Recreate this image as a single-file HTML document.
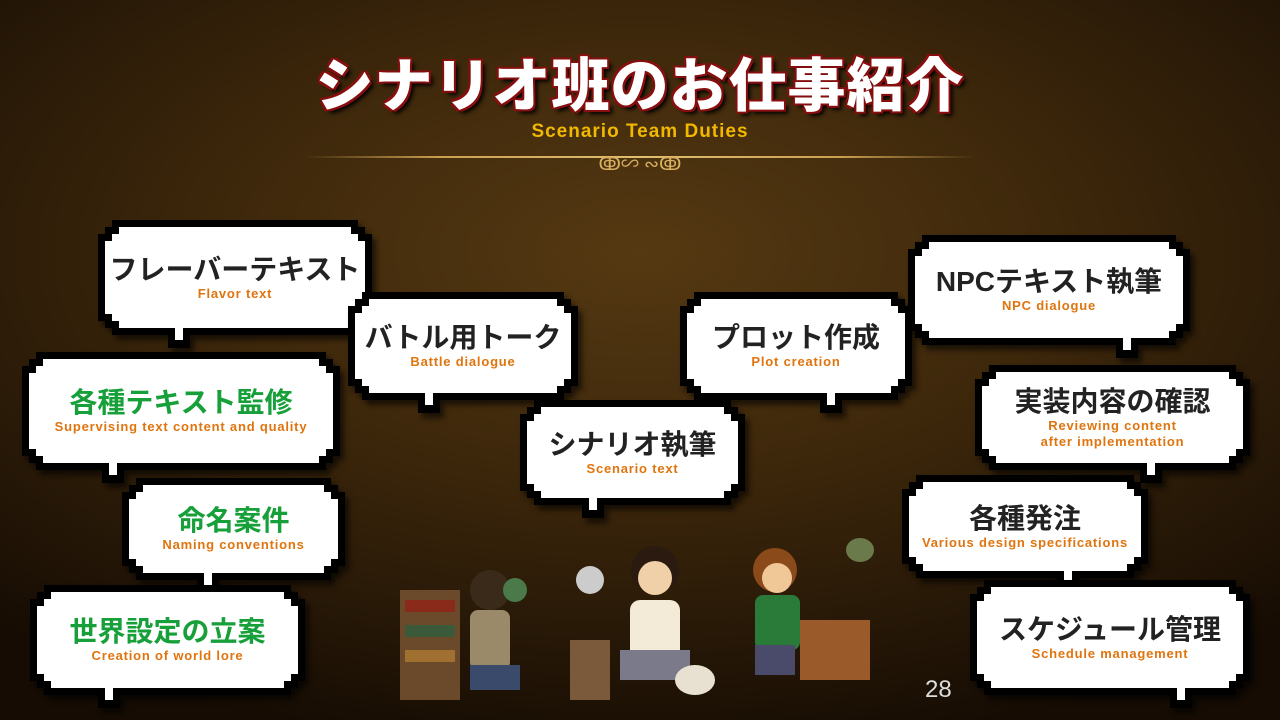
<!DOCTYPE html>
<html><head><meta charset="utf-8"><style>
*{margin:0;padding:0;box-sizing:border-box}
body{width:1280px;height:720px;overflow:hidden;position:relative;
background:radial-gradient(ellipse 75% 70% at 50% 35%,#553912 0%,#3d270b 45%,#211406 85%,#160c03 100%);
font-family:"Liberation Sans","Noto Sans CJK JP",sans-serif}
.t{position:absolute;left:0;width:1280px;text-align:center;top:58px;font-size:58px;font-weight:900;color:#fff;letter-spacing:1px;line-height:1;
text-shadow:0 0 2px #7a0a0a,2px 2px 0 #8a1010,-2px -2px 0 #8a1010,2px -2px 0 #8a1010,-2px 2px 0 #8a1010,4px 4px 4px #000}
.st{position:absolute;left:0;width:1280px;text-align:center;top:121px;font-size:19px;font-weight:bold;color:#f0b800;letter-spacing:1px}
.line{position:absolute;left:305px;width:670px;top:156px;height:2px;background:linear-gradient(90deg,transparent,#c9a050 20%,#e0c070 50%,#c9a050 80%,transparent)}
.orn{position:absolute;left:570px;top:150px;width:140px;text-align:center;color:#d8b060;font-size:18px}
.w{position:absolute;filter:drop-shadow(4px 5px 3px rgba(0,0,0,.6))}
.o,.i{position:absolute;clip-path:polygon(14px 0,calc(100% - 14px) 0,calc(100% - 14px) 7px,calc(100% - 7px) 7px,calc(100% - 7px) 14px,100% 14px,100% calc(100% - 14px),calc(100% - 7px) calc(100% - 14px),calc(100% - 7px) calc(100% - 7px),calc(100% - 14px) calc(100% - 7px),calc(100% - 14px) 100%,14px 100%,14px calc(100% - 7px),7px calc(100% - 7px),7px calc(100% - 14px),0 calc(100% - 14px),0 14px,7px 14px,7px 7px,14px 7px)}
.o{inset:0;background:#000}
.i{inset:7px;background:#fff;display:flex;flex-direction:column;align-items:center;justify-content:center}
.tail{position:absolute;width:22px;height:20px;background:#000}
.tail:after{content:"";position:absolute;left:7px;top:0;width:8px;height:12px;background:#fff}
.m{font-size:28px;font-weight:bold;color:#222;white-space:nowrap;line-height:1.15}
.g{color:#17a03a}
.s{font-size:13px;font-weight:bold;color:#e0740e;white-space:nowrap;line-height:1.2;text-align:center;letter-spacing:.8px}
.num{position:absolute;left:925px;top:676px;color:#ddd;font-size:24px}
</style></head><body>
<div class="t">シナリオ班のお仕事紹介</div>
<div class="st">Scenario Team Duties</div>
<div class="line"></div>
<div class="orn">ↂ∽ ∾ↂ</div>

<div class="w" style="left:98px;top:220px;width:274px;height:115px"><div class="o"></div><div class="tail" style="left:70px;top:108px"></div><div class="i"><div class="m">フレーバーテキスト</div><div class="s">Flavor text</div></div></div>
<div class="w" style="left:348px;top:292px;width:230px;height:108px"><div class="o"></div><div class="tail" style="left:70px;top:101px"></div><div class="i"><div class="m">バトル用トーク</div><div class="s">Battle dialogue</div></div></div>
<div class="w" style="left:680px;top:292px;width:232px;height:108px"><div class="o"></div><div class="tail" style="left:140px;top:101px"></div><div class="i"><div class="m">プロット作成</div><div class="s">Plot creation</div></div></div>
<div class="w" style="left:908px;top:235px;width:282px;height:110px"><div class="o"></div><div class="tail" style="left:208px;top:103px"></div><div class="i"><div class="m">NPCテキスト執筆</div><div class="s">NPC dialogue</div></div></div>
<div class="w" style="left:22px;top:352px;width:318px;height:118px"><div class="o"></div><div class="tail" style="left:80px;top:111px"></div><div class="i"><div class="m g">各種テキスト監修</div><div class="s">Supervising text content and quality</div></div></div>
<div class="w" style="left:975px;top:365px;width:275px;height:105px"><div class="o"></div><div class="tail" style="left:165px;top:98px"></div><div class="i"><div class="m">実装内容の確認</div><div class="s">Reviewing content<br>after implementation</div></div></div>
<div class="w" style="left:520px;top:400px;width:225px;height:105px"><div class="o"></div><div class="tail" style="left:62px;top:98px"></div><div class="i"><div class="m">シナリオ執筆</div><div class="s">Scenario text</div></div></div>
<div class="w" style="left:122px;top:478px;width:223px;height:102px"><div class="o"></div><div class="tail" style="left:75px;top:95px"></div><div class="i"><div class="m g">命名案件</div><div class="s">Naming conventions</div></div></div>
<div class="w" style="left:902px;top:475px;width:246px;height:103px"><div class="o"></div><div class="tail" style="left:155px;top:96px"></div><div class="i"><div class="m">各種発注</div><div class="s">Various design specifications</div></div></div>
<div class="w" style="left:30px;top:585px;width:275px;height:110px"><div class="o"></div><div class="tail" style="left:68px;top:103px"></div><div class="i"><div class="m g">世界設定の立案</div><div class="s">Creation of world lore</div></div></div>
<div class="w" style="left:970px;top:580px;width:280px;height:115px"><div class="o"></div><div class="tail" style="left:200px;top:108px"></div><div class="i"><div class="m">スケジュール管理</div><div class="s">Schedule management</div></div></div>

<svg style="position:absolute;left:390px;top:530px" width="520" height="180">
<g><rect x="10" y="60" width="60" height="110" fill="#6a4a2a"/><rect x="15" y="70" width="50" height="12" fill="#8a2a1a"/><rect x="15" y="95" width="50" height="12" fill="#3a5a3a"/><rect x="15" y="120" width="50" height="12" fill="#a07030"/>
<circle cx="100" cy="60" r="20" fill="#3a2a1a"/><rect x="80" y="80" width="40" height="60" rx="8" fill="#9a8a6a"/><rect x="80" y="135" width="50" height="25" fill="#3a4a6a"/><circle cx="125" cy="60" r="12" fill="#4a7a4a"/></g>
<g><rect x="180" y="110" width="40" height="60" fill="#7a5a3a"/><circle cx="200" cy="50" r="14" fill="#ccc"/><circle cx="265" cy="40" r="24" fill="#2a1a10"/><circle cx="265" cy="48" r="17" fill="#f0d0a8"/><rect x="240" y="70" width="50" height="60" rx="10" fill="#f4ead8"/><rect x="230" y="120" width="70" height="30" fill="#7a7a8a"/><ellipse cx="305" cy="150" rx="20" ry="15" fill="#e8e0d0"/></g>
<g><circle cx="385" cy="40" r="22" fill="#8a4a1a"/><circle cx="387" cy="48" r="15" fill="#f0c898"/><rect x="365" y="65" width="45" height="55" rx="8" fill="#2a7a3a"/><rect x="410" y="90" width="70" height="60" fill="#9a5a2a"/><rect x="365" y="115" width="40" height="30" fill="#4a4a6a"/><ellipse cx="470" cy="20" rx="14" ry="12" fill="#6a7a4a"/></g>
</svg>
<div class="num">28</div>
</body></html>
